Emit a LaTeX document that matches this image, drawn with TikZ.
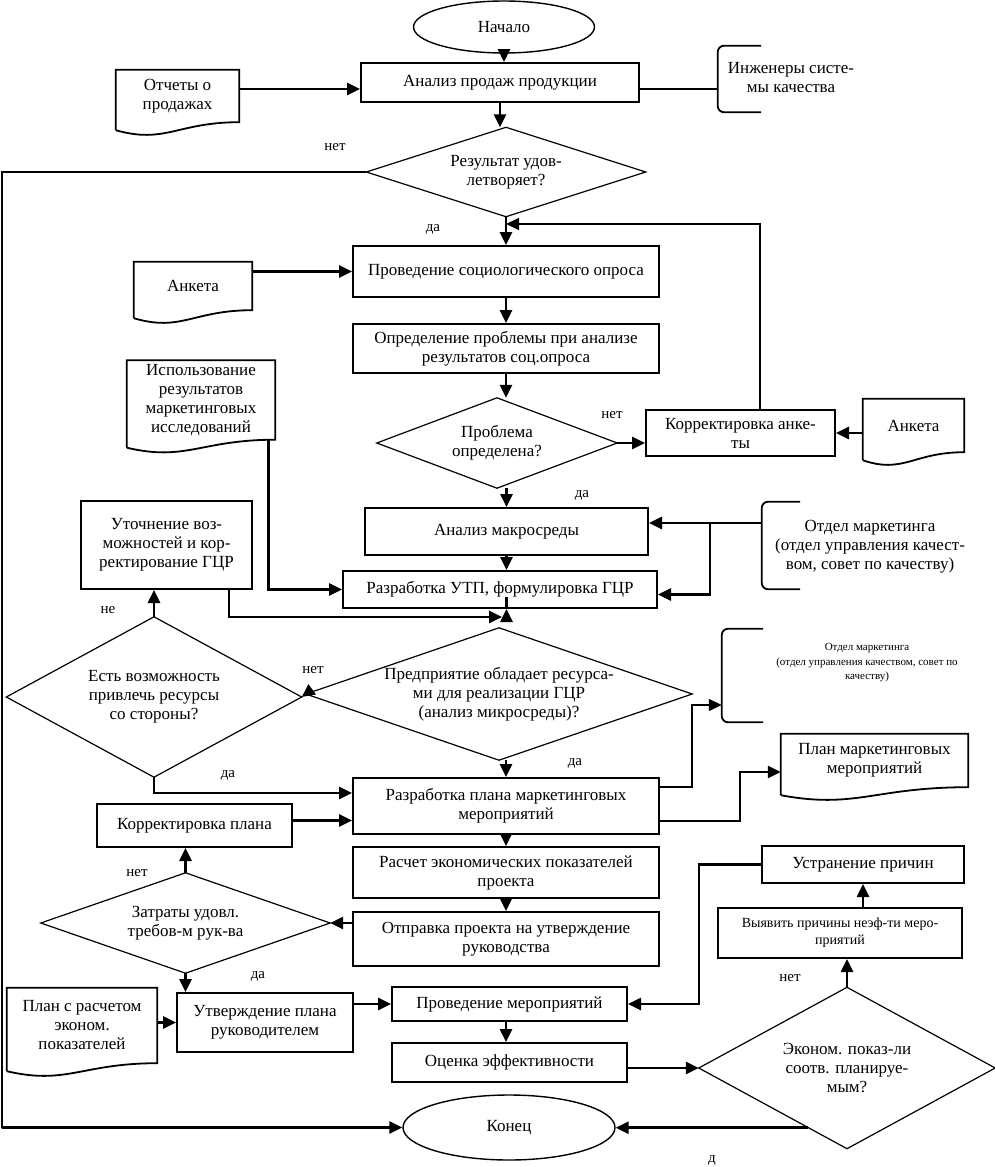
\documentclass[tikz,border=0pt]{standalone}
\usepackage{fontspec}
\setmainfont{Liberation Serif}
\usetikzlibrary{shapes.geometric,arrows.meta,calc}
\begin{document}
\begin{tikzpicture}[
x=1pt, y=-1pt,
font=\fontsize{17}{19}\selectfont,
sz/.style 2 args={minimum width=#1, minimum height=#2},
box/.style={draw, line width=2pt, inner sep=2pt, align=center},
doc/.style={inner sep=2pt, align=center},
dec/.style={inner sep=0pt, align=center},
brk/.style={inner sep=0pt},
note/.style={align=center},
term/.style={ellipse, draw, line width=1.4pt, inner sep=0pt},
lbl/.style={font=\fontsize{15}{17}\selectfont},
small/.style={font=\fontsize{14}{17}\selectfont},
tiny/.style={font=\fontsize{11}{14.5}\selectfont},
arr/.style={-{Triangle[length=13pt,width=12pt]}, line width=2.6pt},
arrthin/.style={-{Triangle[length=13pt,width=12pt]}, line width=1.3pt}
]
\useasboundingbox (0,0) rectangle (995,1167);
% upper part
\node[term, sz={181}{52}] (start) at (504,27) {Начало};
\node[box, sz={278}{39}] (an) at (500,82.5) {Анализ продаж продукции};
\node[doc, sz={123}{52}] (otch) at (177.5,96) {Отчеты о\\продажах};
\node[brk, sz={43}{66}] (brk1) at (739.5,79) {};
\node[note] (brk1t) at (791,78) {Инженеры систе-\\мы качества};
\node[dec, sz={279}{89}] (res) at (506,172) {Результат удов-\\летворяет?};
\node[box, sz={306}{51}] (soc) at (506,271.5) {Проведение социологического опроса};
\node[doc, sz={118}{48}] (ank1) at (193,286) {Анкета};
\node[box, sz={306}{49}] (opr) at (506,348.5) {Определение проблемы при анализе\\результатов соц.опроса};
\node[doc, sz={148}{79}] (isp) at (201,400) {Использование\\результатов\\маркетинговых\\исследований};
\node[dec, sz={240}{90}] (prob) at (497,443) {Проблема\\определена?};
\node[box, sz={189}{46}] (kan) at (740.5,433) {Корректировка анке-\\ты};
\node[doc, sz={101}{53}] (ank2) at (913.5,425.5) {Анкета};
\node[box, sz={283}{47}] (mak) at (506.5,531.5) {Анализ макросреды};
\node[brk, sz={38}{87}] (om1) at (781,545.5) {};
\node[note] (om1t) at (870,547) {Отдел маркетинга\\(отдел управления качест-\\вом, совет по качеству)};
\node[box, sz={314}{37}] (utp) at (500,589.5) {Разработка УТП, формулировка ГЦР};
\node[box, sz={171}{88}] (utoch) at (166.5,545) {Уточнение воз-\\можностей и кор-\\ректирование ГЦР};
% middle part
\node[dec, sz={386}{132}] (pred) at (499,694) {Предприятие обладает ресурса-\\ми для реализации ГЦР\\(анализ микросреды)?};
\node[dec, sz={295}{160}] (est) at (154,697) {Есть возможность\\привлечь ресурсы\\со стороны?};
\node[box, sz={306}{56}] (plan) at (506,806) {Разработка плана маркетинговых\\мероприятий};
\node[brk, sz={41}{93}] (om2) at (742.5,675.5) {};
\node[note, tiny] (om2t) at (867,663) {Отдел маркетинга\\(отдел управления качеством, совет по\\качеству)};
\node[doc, sz={187}{53}] (plm) at (874.5,760.5) {План маркетинговых\\мероприятий};
\node[box, sz={195}{43}] (kpl) at (194.5,825.5) {Корректировка плана};
\node[box, sz={306}{51}] (ras) at (506,872.5) {Расчет экономических показателей\\проекта};
\node[box, sz={306}{54}] (otp) at (506,939) {Отправка проекта на утверждение\\руководства};
\node[dec, sz={289}{100}] (zat) at (185.5,923) {Затраты удовл.\\требов-м рук-ва};
% lower part
\node[doc, sz={150}{75}] (plr) at (82,1025.5) {План с расчетом\\эконом.\\показателей};
\node[box, sz={176}{59}] (utv) at (265,1022.5) {Утверждение плана\\руководителем};
\node[box, sz={235}{34}] (prov) at (509.5,1004) {Проведение мероприятий};
\node[box, sz={235}{39}] (ots) at (509.5,1062.5) {Оценка эффективности};
\node[dec, sz={296}{161}] (eko) at (847,1068) {Эконом. показ-ли\\соотв. планируе-\\мым?};
\node[term, sz={212}{65}] (kon) at (509,1127.5) {Конец};
\node[box, small, sz={244}{50}] (vyy) at (840,933) {Выявить причины неэф-ти меро-\\приятий};
\node[box, sz={202}{37}] (ust) at (863,864.5) {Устранение причин};
% shapes
\foreach \n in {otch,ank1,isp,ank2,plm,plr}
  \draw[line width=1.8pt] ([yshift=-8pt]\n.south west) -- (\n.north west) -- (\n.north east) -- (\n.south east)
    .. controls ($(\n.south west)!0.5!(\n.south east)$) and ($(\n.south west)!0.4!(\n.south east)+(0,22)$) .. ([yshift=-8pt]\n.south west);
\foreach \n in {res,prob,pred,est,zat,eko}
  \draw[line width=1.2pt] (\n.north) -- (\n.east) -- (\n.south) -- (\n.west) -- cycle;
\foreach \n in {brk1,om1,om2}
  \draw[line width=1.8pt, rounded corners=6pt] (\n.north east) -- (\n.north west) -- (\n.south west) -- (\n.south east);
% labels
\node[lbl] (l1) at (335,147) {нет};
\node[lbl] (l2) at (433,229) {да};
\node[lbl] (l3) at (612,415) {нет};
\node[lbl] (l4) at (582,495) {да};
\node[lbl] (l5) at (108,610) {не};
\node[lbl] (l6) at (313,670) {нет};
\node[lbl] (l7) at (228,775) {да};
\node[lbl] (l8) at (575,763) {да};
\node[lbl] (l9) at (137,873) {нет};
\node[lbl] (l10) at (258,976) {да};
\node[lbl] (l11) at (790,978) {нет};
\node[lbl] (l12) at (712,1160) {д};
% connectors
\coordinate (lft) at (2,1128);
\coordinate (fb) at (760,224);
\coordinate (j0) at (710,523);
\coordinate (j1) at (502,617);
\coordinate (j2) at (692,705);
\coordinate (j3) at (740,772);
\coordinate (j4) at (699,1004);
\coordinate (ekobl) at ($(eko.west)!0.74!(eko.south)$);
\draw[arr] (start.south) -- (start.south |- an.north);
\draw[arr] ([yshift=7pt]otch.east) -- ([yshift=7pt]otch.east -| an.west);
\draw[line width=1.8pt] ([yshift=-6.5pt]an.east) -- ([yshift=-6.5pt]an.east -| brk1.west);
\draw[arr] (an.south) -- (an.south |- res.north);
\draw[arr] (res.west) -| (lft) |- (kon.west);
\draw[arr] (res.south) -- (res.south |- soc.north);
\draw[arrthin] (fb |- kan.north) -- (fb) -- (fb -| soc.north);
\draw[arr] (ank1.east |- soc.west) -- (soc.west);
\draw[arr] (soc.south) -- (opr.north);
\draw[arr] (opr.south) -- (opr.south |- prob.north);
\draw[arr] (prob.east) -- (prob.east -| kan.west);
\draw[arr] (ank2.west |- kan.east) -- (kan.east);
\draw[arr] (prob.south -| mak.north) -- (mak.north);
\draw[arr] (om1.west |- j0) -- (j0 -| mak.east);
\draw[arr] (j0) |- ([yshift=-5pt]utp.east);
\draw[arr] (mak.south) -- (mak.south |- utp.north);
\draw[arr] ([xshift=-7pt]isp.south east) |- (utp.west);
\draw[arr] ([xshift=-24pt]utoch.south east) |- (j1);
\draw[arr] (utp.south -| mak.south) -- (utp.south -| mak.south |- pred.north);
\draw[arr] (pred.west) -- (est.east);
\draw[arr] (est.north) -- (est.north |- utoch.south);
\draw[arr] (est.south) |- ([yshift=13pt]plan.west);
\draw[arr] (pred.south -| plan.north) -- (plan.north);
\draw[arrthin] ([yshift=19pt]plan.east) -| (j2) -- (j2 -| om2.west);
\draw[arr] ([yshift=-15pt]plan.east) -| (j3) -- (j3 -| plm.west);
\draw[arr] ([yshift=5pt]kpl.east) -- ([yshift=5pt]kpl.east -| plan.west);
\draw[arr] (plan.south) -- (ras.north);
\draw[arr] (ras.south) -- (otp.north);
\draw[arr] (otp.west |- zat.east) -- (zat.east);
\draw[arr] (zat.north) -- (zat.north |- kpl.south);
\draw[arr] (zat.south) -- (zat.south |- utv.north);
\draw[arr] (plr.east |- utv.west) -- (utv.west);
\draw[arr] (utv.east |- prov.west) -- (prov.west);
\draw[arr] (prov.south -| otp.south) -- (ots.north -| otp.south);
\draw[arr] (ots.east |- eko.west) -- (eko.west);
\draw[arr] (eko.north) -- (eko.north |- vyy.south);
\draw[arr] (ust.south |- vyy.north) -- (ust.south);
\draw[arr] (ust.west) -| (j4) -- (prov.east);
\draw[arr] (ekobl) -- (ekobl -| kon.east);
\end{tikzpicture}
\end{document}
